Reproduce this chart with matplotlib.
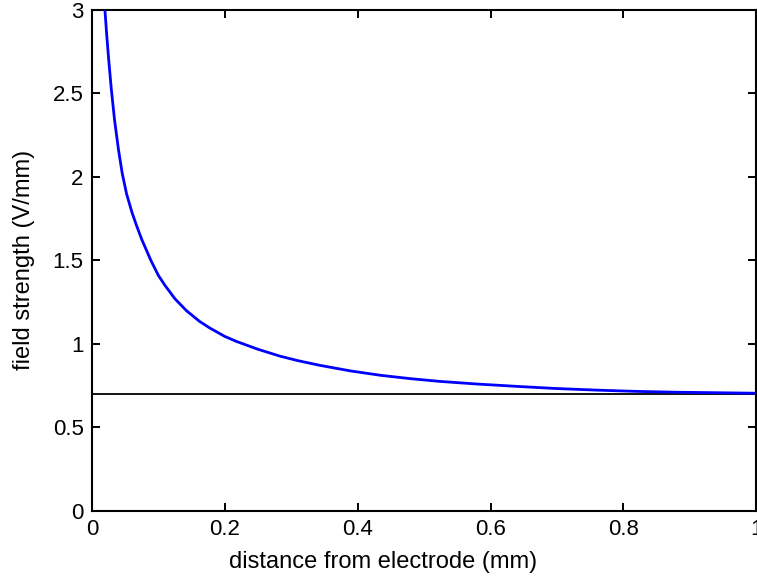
import matplotlib
matplotlib.use("Agg")
import matplotlib.pyplot as plt

# values
distance_mm = [0.0185, 0.0195, 0.022, 0.025, 0.029, 0.034, 0.040, 0.0456, 0.052,
               0.060, 0.067, 0.075, 0.0887, 0.100, 0.110, 0.125, 0.142, 0.162,
               0.1775, 0.20, 0.2175, 0.25, 0.283, 0.31, 0.343, 0.39, 0.435,
               0.48, 0.523, 0.58, 0.644, 0.70, 0.764, 0.82, 0.88, 0.94, 1.0]
field_v_per_mm = [3.06, 3.0, 2.86, 2.71, 2.53, 2.34, 2.16, 2.02, 1.90,
                  1.79, 1.71, 1.625, 1.50, 1.41, 1.35, 1.27, 1.20, 1.135,
                  1.095, 1.045, 1.015, 0.968, 0.927, 0.900, 0.872, 0.838, 0.812,
                  0.792, 0.776, 0.760, 0.745, 0.733, 0.723, 0.716, 0.711, 0.708, 0.705]
uniform_field = 0.7

x_ticks = [0, 0.2, 0.4, 0.6, 0.8, 1]
x_tick_labels = ["0", "0.2", "0.4", "0.6", "0.8", "1"]
y_ticks = [0, 0.5, 1, 1.5, 2, 2.5, 3]
y_tick_labels = ["0", "0.5", "1", "1.5", "2", "2.5", "3"]

plt.rcParams["font.family"] = ["Liberation Sans", "DejaVu Sans"]

fig = plt.figure(figsize=(7.57, 5.81), dpi=100)
ax = fig.add_axes([0.1215, 0.1205, 0.8775, 0.8625])

ax.axhline(uniform_field, color="black", linewidth=1.3, zorder=2)
ax.plot(distance_mm, field_v_per_mm, color="#0000ff", linewidth=2.0, zorder=3)

ax.set_xlim(0, 1)
ax.set_ylim(0, 3)
ax.set_xticks(x_ticks)
ax.set_xticklabels(x_tick_labels)
ax.set_yticks(y_ticks)
ax.set_yticklabels(y_tick_labels)
ax.tick_params(direction="in", length=6, width=1.4, top=True, right=True,
               pad=6, labelsize=16)
for spine in ax.spines.values():
    spine.set_linewidth(1.5)

ax.set_xlabel("distance from electrode (mm)", fontsize=17)
ax.xaxis.set_label_coords(0.4376, -0.08)
ax.set_ylabel("field strength (V/mm)", fontsize=17, labelpad=13)

fig.savefig("out.png", dpi=100)
